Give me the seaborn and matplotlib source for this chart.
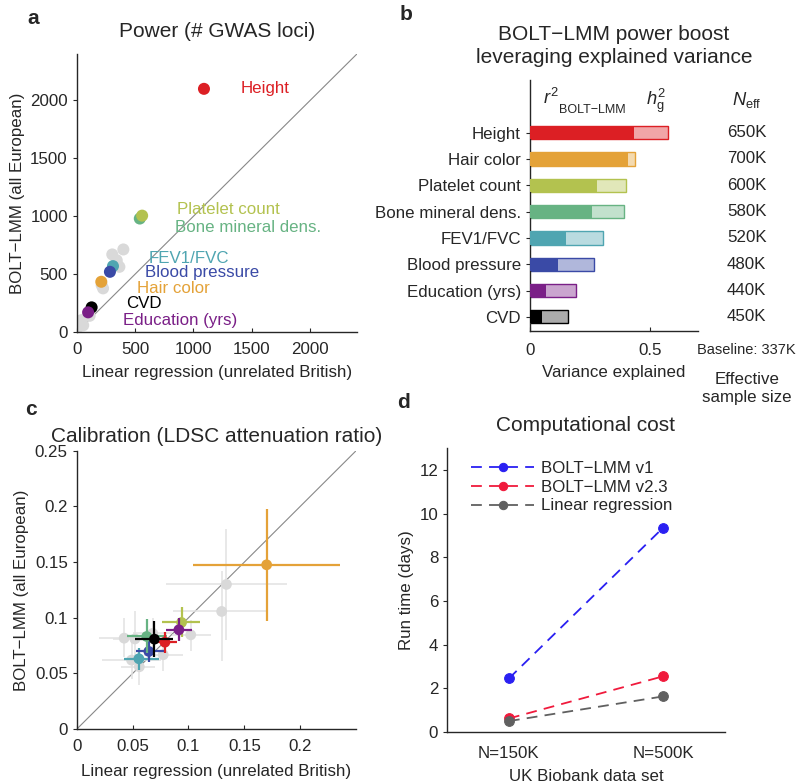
import numpy as np
import pandas as pd
import matplotlib
matplotlib.use('Agg')
import matplotlib.pyplot as plt
import matplotlib.colors as mcolors
import seaborn as sns

# ---- data ----
traits = ['Height', 'Hair color', 'Platelet count', 'Bone mineral dens.',
          'FEV1/FVC', 'Blood pressure', 'Education (yrs)', 'CVD']
trait_colors = ['#dc1f24', '#e4a238', '#b3c24f', '#67b383',
                '#4fa5b1', '#3a4aa6', '#7a1f87', '#000000']

# a: number of GWAS loci
loci_lr = [1090, 210, 560, 540, 310, 284, 97, 127]
loci_bolt = [2100, 434, 1005, 980, 569, 520, 170, 213]
grey_loci_lr = [399, 304, 342, 365, 342, 225, 213, 40, 55, 15, 110]
grey_loci_bolt = [713, 670, 620, 563, 592, 377, 405, 103, 58, 46, 140]
label_x = [1400, 517, 862, 845, 612, 586, 397, 422]
label_y = [2100, 380, 1060, 905, 638, 517, 103, 250]

# b: variance explained and effective sample size
r2_bolt = [0.434, 0.408, 0.279, 0.259, 0.150, 0.118, 0.066, 0.052]
h2_g = [0.574, 0.437, 0.400, 0.393, 0.305, 0.266, 0.190, 0.157]
n_eff = ['650K', '700K', '600K', '580K', '520K', '480K', '440K', '450K']

# c: LDSC attenuation ratio (value, low, high)
att_lr = [0.0789, 0.170, 0.0938, 0.0626, 0.0556, 0.0645, 0.0914, 0.0695]
att_lr_lo = [0.070, 0.104, 0.0765, 0.045, 0.042, 0.053, 0.0795, 0.052]
att_lr_hi = [0.0895, 0.236, 0.110, 0.081, 0.074, 0.080, 0.1035, 0.0865]
att_bolt = [0.0781, 0.1476, 0.0958, 0.0832, 0.0632, 0.0698, 0.0892, 0.0808]
att_bolt_lo = [0.068, 0.0967, 0.0826, 0.068, 0.053, 0.060, 0.0796, 0.065]
att_bolt_hi = [0.087, 0.198, 0.1096, 0.099, 0.073, 0.079, 0.0997, 0.0967]
grey_att_lr = [0.134, 0.1297, 0.102, 0.0424, 0.052, 0.0774, 0.049, 0.056, 0.068]
grey_att_lr_lo = [0.0795, 0.0863, 0.085, 0.020, 0.032, 0.060, 0.023, 0.040, 0.050]
grey_att_lr_hi = [0.188, 0.170, 0.120, 0.065, 0.072, 0.095, 0.075, 0.070, 0.085]
grey_att_bolt = [0.130, 0.1057, 0.0847, 0.0817, 0.081, 0.0668, 0.062, 0.056, 0.086]
grey_att_bolt_lo = [0.080, 0.061, 0.070, 0.065, 0.066, 0.052, 0.045, 0.040, 0.072]
grey_att_bolt_hi = [0.180, 0.142, 0.098, 0.100, 0.106, 0.083, 0.080, 0.070, 0.100]

# d: run time (days)
datasets = ['N=150K', 'N=500K']
methods = ['BOLT\u2212LMM v1', 'BOLT\u2212LMM v2.3', 'Linear regression']
runtime = {'BOLT\u2212LMM v1': [2.45, 9.35],
           'BOLT\u2212LMM v2.3': [0.62, 2.55],
           'Linear regression': [0.5, 1.63]}
method_colors = ['#2a20f2', '#f01a3c', '#606060']

# ---- style ----
sns.set_style('ticks')
plt.rcParams['font.family'] = ['Liberation Sans', 'DejaVu Sans']
plt.rcParams['mathtext.fontset'] = 'custom'
plt.rcParams['mathtext.rm'] = 'Liberation Sans'
plt.rcParams['mathtext.it'] = 'Liberation Sans:italic'
plt.rcParams['axes.linewidth'] = 1.0
plt.rcParams['xtick.major.size'] = 3
plt.rcParams['ytick.major.size'] = 3

FS = 12.2
TFS = 15

fig = plt.figure(figsize=(8, 7.84), dpi=100)
ax_a = fig.add_axes([0.096, 0.5765, 0.350, 0.3545])
ax_b = fig.add_axes([0.6625, 0.578, 0.210, 0.320])
ax_c = fig.add_axes([0.096, 0.070, 0.349, 0.355])
ax_d = fig.add_axes([0.559, 0.0663, 0.347, 0.3623])


def light(c, a=0.4):
    rgb = np.array(mcolors.to_rgb(c))
    return tuple(1 - a * (1 - rgb))


# ---- panel a ----
ax = ax_a
ax.plot([0, 2400], [0, 2400], color='#888888', lw=0.8, zorder=1)
sns.scatterplot(x=grey_loci_lr, y=grey_loci_bolt, color='#d9d9d9', s=75,
                edgecolor='none', ax=ax, zorder=2)
order_a = [4, 5, 1, 7, 6, 3, 2, 0]
for i in order_a:
    sns.scatterplot(x=[loci_lr[i]], y=[loci_bolt[i]], color=trait_colors[i], s=75,
                    edgecolor='none', ax=ax, zorder=3)
    ax.text(label_x[i], label_y[i], traits[i], color=trait_colors[i], fontsize=FS,
            va='center', ha='left')
ax.set_xlim(0, 2400)
ax.set_ylim(0, 2400)
ax.set_xticks([0, 500, 1000, 1500, 2000])
ax.set_yticks([0, 500, 1000, 1500, 2000])
ax.tick_params(axis='x', direction='in', labelsize=FS, pad=7)
ax.tick_params(axis='y', labelsize=FS)
ax.set_xlabel('Linear regression (unrelated British)', fontsize=FS, labelpad=6)
ax.set_ylabel('BOLT\u2212LMM (all European)', fontsize=FS)
ax.set_title('Power (# GWAS loci)', fontsize=TFS, pad=12)
sns.despine(ax=ax)

# ---- panel b ----
ax = ax_b
dfb = pd.DataFrame({'trait': traits, 'r2': r2_bolt, 'h2': h2_g})
sns.barplot(data=dfb, x='h2', y='trait', hue='trait', orient='h', width=0.5,
            palette=[light(c, 0.33 if c == '#000000' else 0.4) for c in trait_colors],
            saturation=1, legend=False, ax=ax, zorder=2)
for p, c in zip(ax.patches, trait_colors):
    p.set_edgecolor(c)
    p.set_linewidth(1.0)
n_light = len(ax.patches)
sns.barplot(data=dfb, x='r2', y='trait', hue='trait', orient='h', width=0.5,
            palette=trait_colors, saturation=1, legend=False, ax=ax, zorder=3)
for p in ax.patches[n_light:]:
    p.set_edgecolor('none')
ax.set_xlim(0, 0.7)
ax.set_ylim(7.53, -2.0)
ax.set_xticks([0, 0.5])
ax.set_xticklabels(['0', '0.5'])
ax.tick_params(axis='x', direction='in', labelsize=FS, pad=9)
ax.tick_params(axis='y', labelsize=FS)
ax.set_xlabel('Variance explained', fontsize=FS, labelpad=5)
ax.set_ylabel('')
ax.set_title('BOLT\u2212LMM power boost\nleveraging explained variance',
             fontsize=TFS, pad=12, linespacing=1.3)
sns.despine(ax=ax)
tr = matplotlib.transforms.blended_transform_factory(ax.transAxes, ax.transData)
for i, n in enumerate(n_eff):
    ax.text(1.29, i, n, transform=tr, ha='center', va='center', fontsize=FS)
# column headers
ax.text(0.08, -1.3, '$r^2$', transform=tr, ha='left', va='center', fontsize=FS + 1)
ax.text(0.17, -0.85, 'BOLT\u2212LMM', transform=tr, ha='left', va='center', fontsize=9)
ax.text(0.75, -1.2, '$h^2_{\\mathrm{g}}$', transform=tr, ha='center', va='center',
        fontsize=FS + 1)
ax.text(1.29, -1.25, '$N_{\\mathrm{eff}}$', transform=tr, ha='center', va='center',
        fontsize=FS + 1)
ax.text(1.29, -0.076, 'Baseline: 337K', transform=ax.transAxes, ha='center',
        va='center', fontsize=10.5)
ax.text(1.29, -0.23, 'Effective\nsample size', transform=ax.transAxes, ha='center',
        va='center', fontsize=FS, linespacing=1.3)

# ---- panel c ----
ax = ax_c
ax.plot([0, 0.25], [0, 0.25], color='#888888', lw=0.8, zorder=1)
gx = np.array(grey_att_lr)
gy = np.array(grey_att_bolt)
ax.errorbar(gx, gy,
            xerr=[gx - np.array(grey_att_lr_lo), np.array(grey_att_lr_hi) - gx],
            yerr=[gy - np.array(grey_att_bolt_lo), np.array(grey_att_bolt_hi) - gy],
            fmt='none', ecolor='#e2e2e2', elinewidth=1.1, capsize=0, zorder=2)
sns.scatterplot(x=grey_att_lr, y=grey_att_bolt, color='#d9d9d9', s=60,
                edgecolor='none', ax=ax, zorder=3)
order_c = [1, 4, 5, 3, 2, 0, 7, 6]
for k, i in enumerate(order_c):
    x, y = att_lr[i], att_bolt[i]
    ax.errorbar([x], [y], xerr=[[x - att_lr_lo[i]], [att_lr_hi[i] - x]],
                yerr=[[y - att_bolt_lo[i]], [att_bolt_hi[i] - y]],
                fmt='none', ecolor=trait_colors[i], elinewidth=1.6, capsize=0,
                zorder=4 + 2 * k)
    sns.scatterplot(x=[x], y=[y], color=trait_colors[i], s=60, edgecolor='none',
                    ax=ax, zorder=5 + 2 * k)
ax.set_xlim(0, 0.25)
ax.set_ylim(0, 0.25)
ax.set_xticks([0, 0.05, 0.1, 0.15, 0.2])
ax.set_xticklabels(['0', '0.05', '0.1', '0.15', '0.2'])
ax.set_yticks([0, 0.05, 0.1, 0.15, 0.2, 0.25])
ax.set_yticklabels(['0', '0.05', '0.1', '0.15', '0.2', '0.25'])
ax.tick_params(axis='x', direction='in', labelsize=FS, pad=7)
ax.tick_params(axis='y', labelsize=FS)
ax.set_xlabel('Linear regression (unrelated British)', fontsize=FS, labelpad=7)
ax.set_ylabel('BOLT\u2212LMM (all European)', fontsize=FS)
ax.set_title('Calibration (LDSC attenuation ratio)', fontsize=TFS, pad=6)
sns.despine(ax=ax)

# ---- panel d ----
ax = ax_d
dfd = pd.DataFrame({'dataset': datasets * 3,
                    'x': [0, 1] * 3,
                    'method': np.repeat(methods, 2),
                    'days': runtime[methods[0]] + runtime[methods[1]] + runtime[methods[2]]})
sns.lineplot(data=dfd, x='x', y='days', hue='method', style='method',
             hue_order=methods, style_order=methods, palette=method_colors,
             dashes={m: (6, 4) for m in methods}, markers={m: 'o' for m in methods},
             markersize=7, linewidth=1.3, ax=ax)
for line, c in zip(ax.lines, method_colors):
    line.set_markeredgecolor(c)
ax.set_xlim(-0.4, 1.4)
ax.set_ylim(0, 13)
ax.set_xticks([0, 1])
ax.set_xticklabels(datasets)
ax.set_yticks([0, 2, 4, 6, 8, 10, 12])
ax.tick_params(axis='x', length=0, labelsize=FS, pad=10)
ax.tick_params(axis='y', labelsize=FS)
ax.set_xlabel('UK Biobank data set', fontsize=FS, labelpad=6)
ax.set_ylabel('Run time (days)', fontsize=FS)
ax.set_title('Computational cost', fontsize=TFS, pad=12)
leg = ax.legend(loc='upper left', bbox_to_anchor=(0.05, 0.99), frameon=False,
                fontsize=FS, handlelength=3.7, handletextpad=0.4, labelspacing=0.22,
                borderaxespad=0.2)
for h, c in zip(leg.legend_handles, method_colors):
    h.set_markeredgecolor(c)
    h.set_markersize(6)
sns.despine(ax=ax)

# panel letters
for lab, (x, y) in zip('abcd', [(0.034, 0.977), (0.500, 0.981), (0.031, 0.478),
                                (0.497, 0.486)]):
    fig.text(x, y, lab, fontsize=15, fontweight='bold', ha='left', va='center')

fig.savefig('out.png', dpi=100)
